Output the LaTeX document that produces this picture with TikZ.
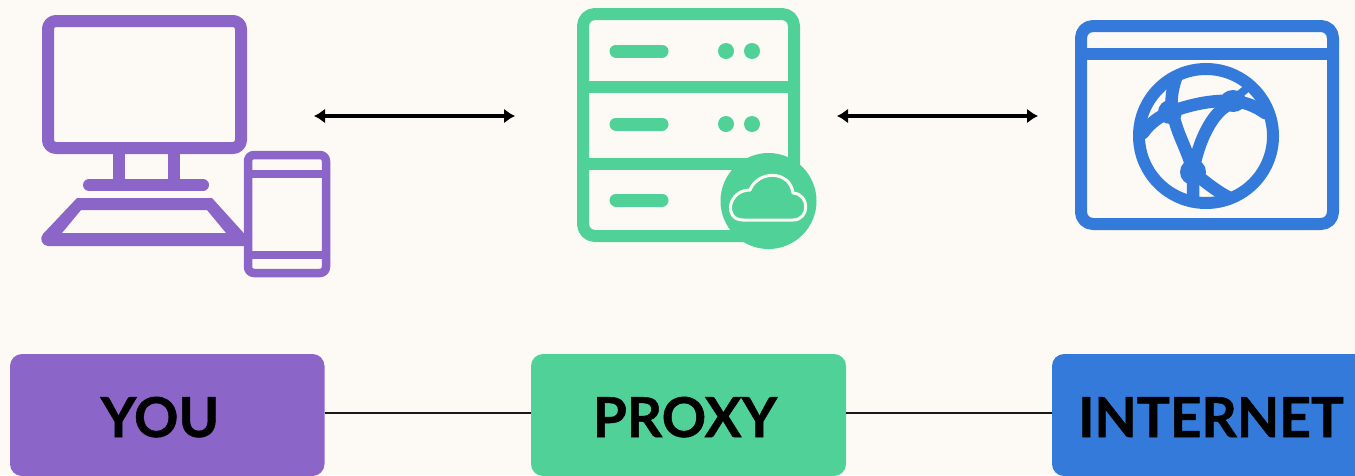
\documentclass[tikz,border=0pt]{standalone}
\usepackage{fontspec}
\setmainfont{Lato}[BoldFeatures={FakeBold=0.9}]
\usetikzlibrary{arrows.meta}
\definecolor{pagebg}{HTML}{FDFAF5}
\definecolor{vio}{HTML}{8B65C8}
\definecolor{grn}{HTML}{50D198}
\definecolor{blu}{HTML}{347ADB}
\tikzset{
  lbl/.style={rounded corners=12pt,inner sep=0pt,minimum height=122pt,text=black,font=\fontsize{55}{60}\selectfont\bfseries,text height=40pt,text depth=0pt},
  icon/.style={line join=round,line cap=round},
  link/.style={line width=2.8pt,black!90},
  dbl/.style={line width=3.2pt,black,{Latex[length=11pt,width=15pt]}-{Latex[length=11pt,width=15pt]}}
}
\begin{document}
\begin{tikzpicture}[x=1pt,y=-1pt]
\useasboundingbox (0,0) rectangle (1355,475);
\clip (0,0) rectangle (1355,475);
\fill[pagebg] (0,0) rectangle (1355,475);
% computer
\begin{scope}[icon,draw=vio,line width=12pt]
\draw[rounded corners=8pt] (48,21) rectangle (241,148);
\draw (119,150) -- (119,182) (173.5,150) -- (173.5,182);
\draw (89,185) -- (203,185);
\fill[vio,even odd rule] (77,198) -- (212,198) -- (250,240) -- (250,246) -- (48,246)
  .. controls (42,246) and (39,238) .. (43,234) -- cycle
  (81,210) -- (207,210) -- (226,233) -- (62,233) -- cycle;
\draw[line width=8.5pt,fill=pagebg,rounded corners=6pt] (248,155) rectangle (326,273);
\draw[line width=8.5pt,line cap=butt] (248,174) -- (326,174) (248,255) -- (326,255);
\end{scope}
% server
\begin{scope}[icon,draw=grn,fill=grn,line width=12pt]
\draw[rounded corners=12pt,fill=none] (583,14) rectangle (794,236);
\draw[line cap=butt] (583,86.5) -- (794,86.5) (583,163.5) -- (794,163.5);
\draw[line width=13pt] (616,51) -- (662,51) (616,124) -- (662,124) (616,200) -- (662,200);
\fill (726,51) circle[radius=8] (752,51) circle[radius=8] (726,124) circle[radius=8] (752,124) circle[radius=8];
\fill (768.5,201) circle[radius=48];
\draw[draw=pagebg,line width=3pt] (743,220) -- (793,220) .. controls (810,220) and (810,194) .. (793,193) .. controls (790,170) and (758,170) .. (750,190) .. controls (728,190) and (723,220) .. (743,220) -- cycle;
\end{scope}
% browser
\begin{scope}[icon,draw=blu,fill=blu,line width=12pt]
\draw[rounded corners=12pt,fill=none] (1081,26) rectangle (1333,224);
\draw[line cap=butt] (1081,53.5) -- (1333,53.5);
\draw[fill=none,line width=12pt] (1206,136) circle[radius=67];
\begin{scope}[line width=12.5pt]
\draw (1143,133) .. controls (1150,123) and (1160,116) .. (1170,112) .. controls (1195,103) and (1215,100) .. (1233,101) .. controls (1247,102) and (1258,108) .. (1265,113);
\draw (1176,78) .. controls (1172,90) and (1170,102) .. (1173,113) .. controls (1177,135) and (1188,150) .. (1193,172) -- (1193,198);
\draw (1230,104) .. controls (1212,112) and (1198,142) .. (1193,172);
\draw (1193,172) .. controls (1205,182) and (1218,192) .. (1228,197);
\draw[line width=8pt] (1233,100) -- (1246,89);
\end{scope}
\fill (1170,112) circle[radius=12] (1233,101) ellipse[x radius=13,y radius=11] (1193,172) circle[radius=13];
\end{scope}
% labels
\node[lbl,fill=vio,minimum width=314.5pt] (you) at (167.25,415) {\raisebox{-2pt}{\makebox[0pt]{\kern-14.5pt YOU}}};
\node[lbl,fill=grn,minimum width=315pt] (proxy) at (688.5,415) {\raisebox{-2pt}{\makebox[0pt]{\kern-7pt PROXY}}};
\node[lbl,fill=blu,minimum width=318pt] (internet) at (1211,415) {\raisebox{-2pt}{INTERNET}};
\draw[link] ([yshift=2pt]you.east) -- ([yshift=2pt]proxy.west);
\draw[link] ([yshift=2pt]proxy.east) -- ([yshift=2pt]internet.west);
% arrows
\coordinate (a1) at (314,116); \coordinate (a2) at (515,116);
\coordinate (b1) at (837,116); \coordinate (b2) at (1038,116);
\draw[dbl] (a1) -- (a2);
\draw[dbl] (b1) -- (b2);
\end{tikzpicture}
\end{document}
